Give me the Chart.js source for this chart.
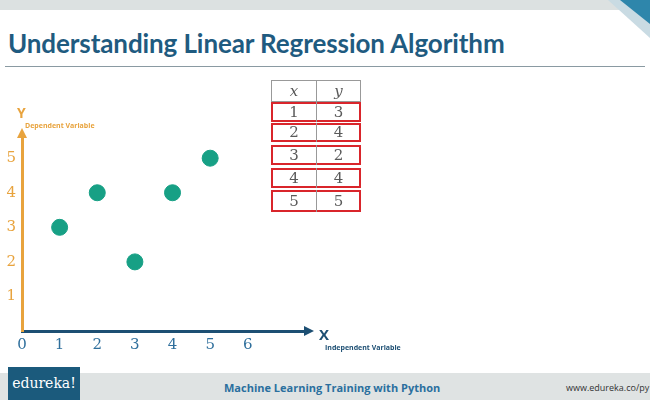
<!DOCTYPE html>
<html>
<head>
<meta charset="utf-8">
<script src="https://cdn.jsdelivr.net/npm/chart.js@4/dist/chart.umd.min.js"></script>
<style>
  body { margin: 0; width: 650px; height: 400px; background: #fff; position: relative; overflow: hidden; font-family: "Open Sans", sans-serif; }
  .topband { position: absolute; left: 0; top: 0; width: 650px; height: 10px; background: #dce1e1; }
  .corner { position: absolute; right: 0; top: 0; }
  h1 { position: absolute; left: 8px; top: 27px; margin: 0; font-family: Lato, sans-serif; font-weight: 700; font-size: 26px; color: #1f5b80; letter-spacing: -0.1px; }
  .rule { position: absolute; left: 5px; top: 66px; width: 640px; height: 1px; background: #8a9aa2; }
  #wrap { position: absolute; left: 0; top: 100px; width: 340px; height: 260px; }
  .lbl { position: absolute; font-weight: 700; white-space: nowrap; }
  #tbl { position: absolute; left: 271px; top: 80px; font-family: "DejaVu Serif", serif; font-size: 15px; color: #5a5a5a; }
  #tbl div { position: absolute; box-sizing: border-box; text-align: center; }
  .bottom { position: absolute; left: 0; top: 373px; width: 650px; height: 27px; background: #dfe3e3; }
  .logo { position: absolute; left: 8px; top: 367px; width: 72px; height: 33px; background: #1b5a7c; color: #fff; font-family: "DejaVu Serif", serif; font-size: 14px; line-height: 33px; text-align: center; }
</style>
</head>
<body>
<div class="topband"></div>
<svg class="corner" width="60" height="40">
  <polygon points="18,0 60,0 60,38" fill="#c9dbe3"/>
  <polygon points="30,0 60,0 60,24" fill="#2e86ab"/>
</svg>
<h1>Understanding Linear Regression Algorithm</h1>
<div class="rule"></div>

<div id="wrap"><canvas id="chart" width="340" height="260"></canvas></div>
<div class="lbl" style="left:17px;top:103px;font-size:14px;color:#e8a33d;">Y</div>
<div class="lbl" style="left:25px;top:121px;font-size:7px;color:#e8a33d;">Dependent Variable</div>
<div class="lbl" style="left:319px;top:324px;font-size:15px;color:#1d4f73;">X</div>
<div class="lbl" style="left:325px;top:343px;font-size:7px;color:#1d4f73;">Independent Variable</div>

<div id="tbl"></div>

<div class="bottom"></div>
<div class="logo">edureka!</div>
<div class="lbl" style="left:224px;top:380px;font-size:11px;color:#2a6f9e;">Machine Learning Training with Python</div>
<div style="position:absolute;left:566px;top:381px;font-size:9px;color:#333;white-space:nowrap;">www.edureka.co/py</div>

<script>
// data
var xValues = [1, 2, 3, 4, 5];
var yValues = [3, 4, 2, 4, 5];
var xTicks = [0, 1, 2, 3, 4, 5, 6];
var yTicks = [1, 2, 3, 4, 5];

// x / y table built from the same arrays (offsets relative to table top)
var rowTop = [22, 43, 65, 88, 110];
var rowH = [20, 19, 20, 20, 22];
var tbl = document.getElementById('tbl');
var html = '<div style="left:0;top:0;width:46px;height:22px;line-height:21px;border:1px solid #999;font-style:italic">x</div>' +
    '<div style="left:45px;top:0;width:45px;height:22px;line-height:21px;border:1px solid #999;font-style:italic">y</div>';
for (var i = 0; i < xValues.length; i++) {
    html += '<div style="left:0;top:' + rowTop[i] + 'px;width:90px;height:' + rowH[i] + 'px;border:2px solid #d9252b"></div>' +
        '<div style="left:45px;top:' + rowTop[i] + 'px;width:1px;height:' + rowH[i] + 'px;background:#999"></div>' +
        '<div style="left:0;top:' + rowTop[i] + 'px;width:46px;line-height:' + rowH[i] + 'px">' + xValues[i] + '</div>' +
        '<div style="left:45px;top:' + rowTop[i] + 'px;width:45px;line-height:' + rowH[i] + 'px">' + yValues[i] + '</div>';
}
tbl.innerHTML = html;

var points = xValues.map(function(x, i) { return { x: x, y: yValues[i] }; });

var arrows = {
    id: 'arrows',
    afterDraw: function(chart) {
        var ctx = chart.ctx, a = chart.chartArea;
        ctx.save();
        ctx.fillStyle = '#1d4f73';
        ctx.beginPath();
        ctx.moveTo(a.right + 6, a.bottom);
        ctx.lineTo(a.right - 4, a.bottom - 5);
        ctx.lineTo(a.right - 4, a.bottom + 5);
        ctx.closePath();
        ctx.fill();
        ctx.fillStyle = '#e8a33d';
        ctx.beginPath();
        ctx.moveTo(a.left, a.top - 6);
        ctx.lineTo(a.left - 5, a.top + 4);
        ctx.lineTo(a.left + 5, a.top + 4);
        ctx.closePath();
        ctx.fill();
        ctx.restore();
    }
};

new Chart(document.getElementById('chart'), {
    type: 'scatter',
    data: {
        datasets: [{
            data: points,
            backgroundColor: '#17a085',
            borderColor: '#17a085',
            pointRadius: 8,
            pointHoverRadius: 8
        }]
    },
    options: {
        responsive: false,
        animation: false,
        layout: { padding: { top: 34, right: 32, left: 0, bottom: 0 } },
        plugins: { legend: { display: false }, tooltip: { enabled: false } },
        scales: {
            x: {
                type: 'linear',
                min: 0,
                max: 7.6,
                afterBuildTicks: function(s) { s.ticks = xTicks.map(function(v) { return { value: v }; }); },
                afterFit: function(s) { s.height = 29; },
                grid: { display: false, drawTicks: false },
                border: { display: true, color: '#1d4f73', width: 3 },
                ticks: { color: '#2f6f9c', padding: 5, font: { family: 'DejaVu Serif', size: 15 } }
            },
            y: {
                type: 'linear',
                min: 0,
                max: 5.7,
                afterBuildTicks: function(s) { s.ticks = yTicks.map(function(v) { return { value: v }; }); },
                afterFit: function(s) { s.width = 22; },
                grid: { display: false, drawTicks: false },
                border: { display: true, color: '#e8a33d', width: 3 },
                ticks: { color: '#e8a33d', padding: 6, font: { family: 'DejaVu Serif', size: 15 } }
            }
        }
    },
    plugins: [arrows]
});
</script>
</body>
</html>
